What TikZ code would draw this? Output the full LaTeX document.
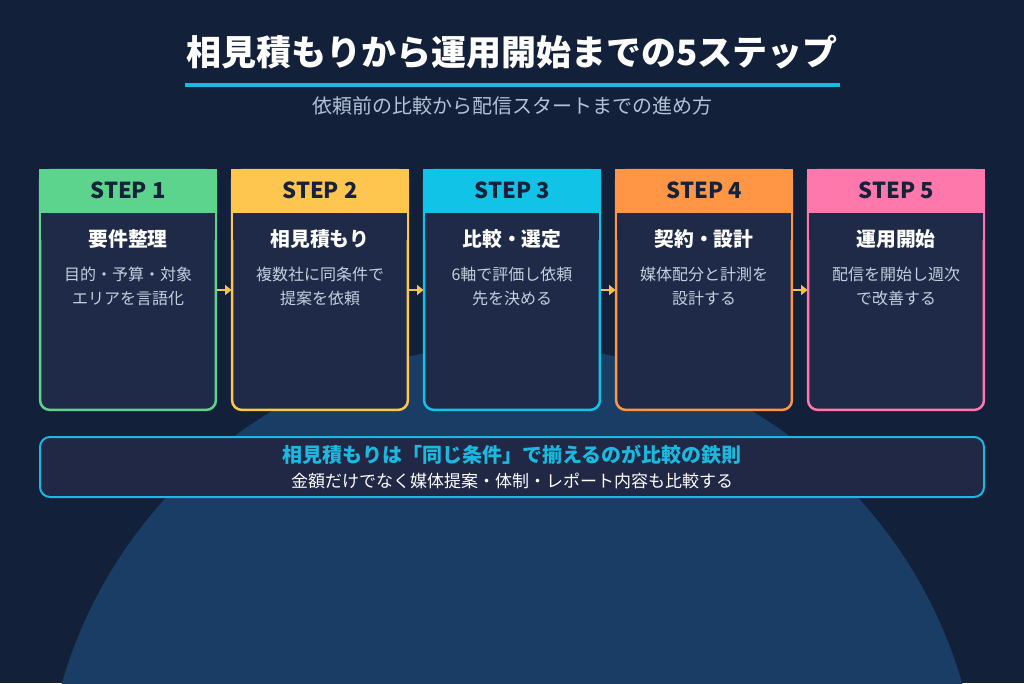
\documentclass[tikz,border=0pt]{standalone}
\usepackage{fontspec}
\setmainfont{Noto Sans CJK JP}
\usetikzlibrary{arrows.meta}
\definecolor{bg}{HTML}{12203A}
\definecolor{circ}{HTML}{1A3D66}
\definecolor{body}{HTML}{1E2A47}
\definecolor{note}{HTML}{212846}
\definecolor{cyanl}{HTML}{1BB8DF}
\definecolor{subt}{HTML}{B4C2D8}
\definecolor{desc}{HTML}{C6CFDE}
\definecolor{hdtext}{HTML}{16213A}
\definecolor{arrowc}{HTML}{F8C24A}
\definecolor{cA}{HTML}{5CD48E}
\definecolor{cB}{HTML}{FFC64F}
\definecolor{cC}{HTML}{12C3E8}
\definecolor{cD}{HTML}{FF9645}
\definecolor{cE}{HTML}{FF78AC}
\tikzset{
  titletext/.style={text=white, font=\fontsize{35}{40}\selectfont\bfseries, inner sep=0},
  subtext/.style={text=subt, font=\fontsize{20}{24}\selectfont, inner sep=0},
  hdtxt/.style={text=hdtext, font=\fontsize{22}{26}\selectfont\bfseries, inner sep=0},
  steptitle/.style={text=white, font=\fontsize{19.8}{23}\selectfont\bfseries, inner sep=0},
  stepdesc/.style={text=desc, font=\fontsize{16}{24}\selectfont, inner sep=0, align=center},
  frame/.style={minimum width=176pt, minimum height=240pt, inner sep=0, outer sep=0},
  flow/.style={draw=arrowc, line width=2.4pt, -{Triangle[length=6.5pt,width=10pt]}, shorten >=0.5pt, shorten <=1pt},
}
\begin{document}
\begin{tikzpicture}[x=1pt,y=-1pt]
\fill[bg] (0,0) rectangle (1024,683);
\useasboundingbox (0,0) rectangle (1024,683);
\begin{scope}
\clip (0,0) rectangle (1024,683);
\fill[circ] (512,813.5) circle[radius=468.5pt];
\end{scope}
% title
\node[titletext] (title) at (512,52) {相見積もりから運用開始までの5ステップ};
\coordinate (ulL) at (185,85);
\coordinate (ulR) at (840,85);
\draw[cyanl, line width=4pt] (ulL) -- (ulR);
\node[subtext] (sub) at (512,106) {依頼前の比較から配信スタートまでの進め方};
% steps
\foreach \i/\c/\t/\la/\lb in {1/cA/要件整理/目的・予算・対象/エリアを言語化,
                              2/cB/相見積もり/複数社に同条件で/提案を依頼,
                              3/cC/比較・選定/6軸で評価し依頼/先を決める,
                              4/cD/契約・設計/媒体配分と計測を/設計する,
                              5/cE/運用開始/配信を開始し週次/で改善する}{
  \pgfmathsetmacro{\xc}{128+192*(\i-1)}
  \node[frame] (s\i) at (\xc,290) {};
  \fill[\c, rounded corners=11pt] ([xshift=-1.2pt,yshift=1.2pt]s\i.north west) rectangle ([xshift=1.2pt,yshift=-1.2pt]s\i.south east);
  \fill[\c] ([xshift=-1.2pt,yshift=1.2pt]s\i.north west) rectangle ([xshift=1.2pt,yshift=-30pt]s\i.north east);
  \fill[body, rounded corners=9pt] ([xshift=1.3pt,yshift=-43pt]s\i.north west) rectangle ([xshift=-1.3pt,yshift=1.3pt]s\i.south east);
  \fill[body] ([xshift=1.3pt,yshift=-43pt]s\i.north west) rectangle ([xshift=-1.3pt,yshift=-70pt]s\i.north east);
  \node[hdtxt] (h\i) at (\xc,190) {STEP \i};
  \node[steptitle] (t\i) at (\xc,239) {\t};
  \node[stepdesc] (d\i) at (\xc,286) {\la\\\lb};
}
\foreach \a/\b in {1/2,2/3,3/4,4/5}{
  \draw[flow] (s\a.east) -- (s\b.west);
}
% note box
\node[draw=cyanl, line width=2pt, fill=note, rounded corners=10pt, minimum width=944pt, minimum height=60pt, inner sep=0] (note) at (512,467) {};
\node[text=cyanl, font=\fontsize{20}{24}\selectfont\bfseries, inner sep=0] (n1) at (512,455) {相見積もりは「同じ条件」で揃えるのが比較の鉄則};
\node[text=white, font=\fontsize{17}{20}\selectfont, inner sep=0] (n2) at (512,481) {金額だけでなく媒体提案・体制・レポート内容も比較する};
\end{tikzpicture}
\end{document}
